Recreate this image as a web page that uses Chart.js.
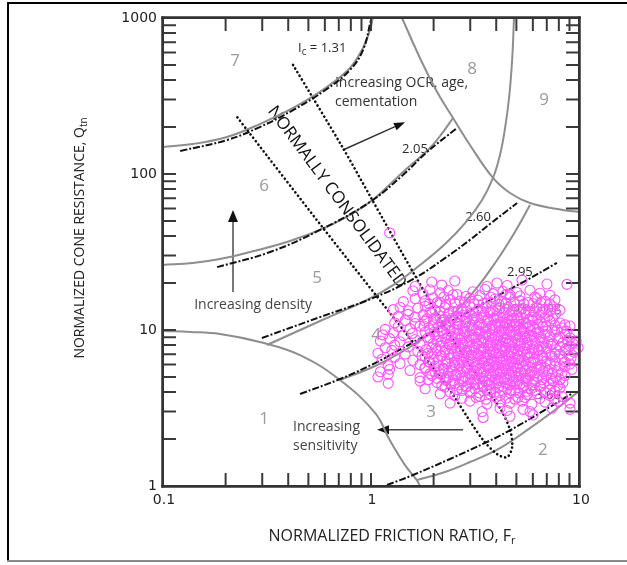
<!DOCTYPE html>
<html><head><meta charset="utf-8">
<script src="https://cdn.jsdelivr.net/npm/chart.js@4/dist/chart.umd.min.js"></script>
<style>html,body{margin:0;padding:0;background:#fff;}canvas{display:block;}</style>
</head><body>
<canvas id="c" width="627" height="565"></canvas>
<script>
// ===================== DATA =====================
const xTickValues = [0.1, 1, 10];
const xTickLabels = ['0.1', '1', '10'];
const yTickValues = [1, 10, 100, 1000];
const yTickLabels = ['1', '10', '100', '1000'];
const minorF = [0.2,0.3,0.4,0.5,0.6,0.7,0.8,0.9,1,2,3,4,5,6,7,8,9];
const minorQ = [2,3,4,5,6,7,8,9,10,20,30,40,50,60,70,80,90,100,200,300,400,500,600,700,800,900];

// zone boundaries (grey solid)  [F, Q]
const zone1Boundary = [[0.1,9.85],[0.135,9.72],[0.188,9.43],[0.292,8.38],[0.456,6.91],[0.709,4.78],[1.046,2.94],[1.23,1.97],[1.457,1.36],[1.66,1.09],[1.72,1.0]];
const zone2Boundary = [[1.66,1.09],[2.27,1.23],[2.99,1.425],[4.17,1.75],[5.81,2.35],[7.67,3.07],[9.89,4.0]];
const zone34Boundary = [[0.709,4.78],[1.046,5.88],[1.54,7.78],[2.32,11.6],[3.16,18.0],[4.04,28.1],[4.92,42.5],[5.81,63.3]];
const zone45Boundary = [[0.316,8.01],[0.569,11.42],[0.936,15.35],[1.30,19.7],[1.72,26.1],[2.27,35.6],[2.86,49.2],[3.42,68.1],[3.86,94.3],[4.17,132.4],[4.41,197],[4.61,307],[4.77,538],[4.87,1000]];
const zone56Boundary = [[0.1,26.1],[0.139,26.9],[0.188,28.5],[0.262,31.6],[0.408,37.2],[0.614,45.8],[0.838,57.1],[1.046,70.2],[1.425,103],[1.92,146.8],[2.22,185.8],[2.48,228.6]];
const zone67Boundary = [[0.1,149],[0.139,155.7],[0.203,172.6],[0.292,209],[0.422,265],[0.614,361],[0.792,478],[0.915,642],[0.989,837],[1.02,1000]];
const ocBoundary = [[1.41,1000],[1.72,554],[2.08,335],[2.48,228.6],[2.99,153.5],[3.86,94.3],[4.66,75.5],[5.81,65.2],[8.37,58.8],[10,57.1]];

// Ic contours (dash-dot)
const ic131 = [[0.121,140.4],[0.203,165],[0.292,200],[0.422,257],[0.614,351],[0.792,464],[0.915,623],[1.0,971]];
const ic205 = [[0.182,25.3],[0.327,31.6],[0.569,43.8],[0.989,66.2],[1.425,98.5],[1.86,138.4],[2.59,197]];
const ic260 = [[0.299,8.89],[0.569,12.1],[1.02,16.0],[1.592,21.2],[2.27,28.9],[2.99,37.8],[3.73,47.8],[5.04,65.2]];
const ic295 = [[0.456,3.89],[0.709,4.85],[1.046,6.14],[1.54,8.13],[2.398,11.26],[3.73,15.57],[5.50,20.6],[7.83,26.9]];
const ic360 = [[1.194,1.015],[1.592,1.176],[2.398,1.49],[3.612,1.915],[4.507,2.22],[6.49,2.94],[9.36,3.95]];

// normally consolidated band (dotted)
const ncBand = [[0.422,500],[0.733,146.8],[0.989,72.3],[1.592,23.5],[2.398,9.29],[3.34,4.78],[4.17,3.16],[4.66,2.29],[4.77,1.78],[4.51,1.53],[4.04,1.60],[3.46,1.97],[2.99,2.61],[2.32,4.38],[1.66,7.78],[0.588,45.1],[0.227,232]];

// CPT data points [Fr, Qtn]
const cptPoints = [
[1.63,19.0],[1.96,20.3],[2.19,19.4],[2.53,20.6],[3.61,19.0],[4.03,20.0],[4.51,19.3],[5.32,20.9],[7.01,19.7],[8.75,19.6],
[1.59,17.8],[1.78,17.0],[1.92,18.1],[2.15,17.3],[2.35,17.9],[2.59,16.9],[3.09,17.6],[3.53,18.2],[3.86,17.1],[4.31,17.7],[4.66,16.8],[5.03,17.4],[5.81,18.0],[6.49,17.2],[7.25,16.7],
[2.24,16.3],[2.48,16.8],[2.86,16.4],[3.34,16.6],[3.77,16.2],[4.46,16.9],[5.20,16.5],[6.14,16.3],
[1.43,15.2],[1.63,15.9],[1.82,15.4],[1.99,16.1],[2.15,15.0],[2.40,15.7],[2.68,15.3],[2.99,16.0],[3.27,15.5],[3.61,14.9],[3.95,15.8],[4.26,15.2],[4.66,16.2],[5.20,15.4],[5.69,15.0],[6.28,15.9],[6.86,15.3],[7.66,15.6],
[1.90,14.7],[2.08,15.0],[2.29,14.6],[2.53,14.9],[2.83,15.1],[3.13,14.7],[3.46,14.8],[3.77,15.0],[4.12,14.6],[4.46,14.9],[4.87,15.1],[5.44,14.7],[6.01,14.8],[6.56,15.0],[7.25,14.7],
[1.28,13.5],[1.38,14.0],[1.51,13.3],[1.68,13.8],[1.82,14.2],[2.03,13.4],[2.27,13.9],[2.48,13.2],[2.74,13.7],[2.99,14.1],[3.27,13.5],[3.57,13.9],[3.86,13.3],[4.17,13.8],[4.56,14.0],[4.92,13.4],[5.32,13.7],[5.81,13.2],[6.28,13.9],[6.86,13.6],[7.49,14.1],[8.10,13.4],
[1.92,13.0],[2.15,13.2],[2.37,12.9],[2.62,13.3],[2.86,13.1],[3.13,12.9],[3.42,13.2],[3.73,13.0],[4.03,13.3],[4.36,12.9],[4.76,13.1],[5.14,13.2],[5.56,12.9],[6.07,13.1],[6.64,13.0],[7.25,13.3],
[1.35,12.2],[1.51,12.6],[1.63,12.1],[1.78,12.5],[1.96,12.8],[2.15,12.2],[2.35,12.6],[2.56,12.0],[2.77,12.4],[2.99,12.7],[3.23,12.1],[3.49,12.5],[3.73,12.9],[4.03,12.3],[4.31,12.0],[4.66,12.6],[5.03,12.2],[5.50,12.7],[5.94,12.1],[6.49,12.5],[7.09,12.3],[7.75,12.8],
[1.86,11.8],[2.05,12.0],[2.24,11.7],[2.45,11.9],[2.68,12.1],[2.89,11.8],[3.13,11.9],[3.38,12.0],[3.65,11.7],[3.90,11.9],[4.17,12.1],[4.51,11.8],[4.87,11.9],[5.26,12.0],[5.75,11.7],[6.28,11.9],[6.86,12.0],[7.49,11.8],
[1.30,11.1],[1.46,11.5],[1.63,11.0],[1.82,11.4],[1.99,11.7],[2.19,11.2],[2.40,11.5],[2.62,11.0],[2.86,11.3],[3.09,11.6],[3.34,11.1],[3.61,11.4],[3.90,11.7],[4.17,11.2],[4.46,10.9],[4.76,11.5],[5.14,11.3],[5.56,11.0],[6.01,11.6],[6.56,11.2],[7.25,11.4],[8.10,11.1],
[1.80,10.6],[1.99,10.8],[2.17,10.5],[2.37,10.7],[2.59,10.9],[2.83,10.6],[3.06,10.7],[3.31,10.8],[3.57,10.5],[3.82,10.7],[4.08,10.9],[4.36,10.6],[4.66,10.7],[4.98,10.8],[5.38,10.5],[5.81,10.7],[6.35,10.9],[6.94,10.6],[7.66,10.7],[8.56,10.8],
[1.17,10.1],[1.35,10.5],[1.54,10.2],[1.72,10.6],[1.92,10.0],[2.10,10.4],[2.29,10.7],[2.51,10.1],[2.74,10.3],[2.96,10.6],[3.20,10.0],[3.46,10.4],[3.73,10.2],[3.99,10.5],[4.26,10.0],[4.56,10.3],[4.87,10.6],[5.26,10.1],[5.69,10.4],[6.14,10.2],[6.71,10.5],[7.41,10.0],[8.28,10.3],[9.05,10.6],
[2.01,9.7],[2.19,9.9],[2.40,9.8],[2.62,10.0],[2.83,9.7],[3.06,9.9],[3.31,9.8],[3.57,9.7],[3.86,10.0],[4.12,9.8],[4.41,9.9],[4.71,9.7],[5.03,10.0],[5.44,9.8],[5.87,9.9],[6.42,9.7],[7.01,9.8],[7.83,10.0],[8.75,9.8],
[1.14,9.3],[1.28,9.6],[1.43,9.2],[1.58,9.5],[1.82,9.7],[2.03,9.3],[2.22,9.6],[2.43,9.1],[2.62,9.4],[2.83,9.7],[3.06,9.2],[3.31,9.5],[3.57,9.3],[3.82,9.6],[4.08,9.2],[4.36,9.5],[4.66,9.8],[4.98,9.3],[5.38,9.5],[5.81,9.2],[6.28,9.6],[6.86,9.4],[7.66,9.7],[8.56,9.3],
[1.92,8.9],[2.12,9.1],[2.32,8.95],[2.53,9.05],[2.74,8.9],[2.96,9.1],[3.20,9.0],[3.46,8.9],[3.69,9.1],[3.95,8.95],[4.22,9.05],[4.51,8.9],[4.81,9.1],[5.20,9.0],[5.62,8.9],[6.07,9.1],[6.56,8.95],[7.25,9.05],[8.10,9.0],[9.05,8.9],
[1.11,8.5],[1.23,8.8],[1.38,8.4],[1.63,8.7],[1.88,8.9],[2.08,8.5],[2.27,8.8],[2.45,8.4],[2.68,8.7],[2.89,8.5],[3.13,8.9],[3.38,8.6],[3.65,8.3],[3.90,8.7],[4.17,8.5],[4.46,8.8],[4.76,8.4],[5.09,8.6],[5.50,8.9],[5.94,8.5],[6.49,8.7],[7.09,8.4],[7.92,8.8],[8.85,8.6],[9.68,8.5],
[1.99,8.2],[2.17,8.35],[2.37,8.15],[2.56,8.3],[2.77,8.2],[2.99,8.35],[3.23,8.15],[3.49,8.3],[3.77,8.25],[4.03,8.1],[4.31,8.35],[4.61,8.2],[4.92,8.3],[5.26,8.15],[5.69,8.3],[6.21,8.2],[6.78,8.35],[7.49,8.15],[8.37,8.3],[9.36,8.2],
[1.17,7.7],[1.30,8.0],[1.51,7.8],[1.72,8.1],[1.96,7.7],[2.17,7.9],[2.37,8.1],[2.56,7.7],[2.77,8.0],[2.99,7.8],[3.23,8.1],[3.49,7.7],[3.73,7.9],[3.99,8.0],[4.26,7.8],[4.56,8.1],[4.87,7.7],[5.20,7.9],[5.62,8.0],[6.07,7.7],[6.64,7.9],[7.33,8.1],[8.10,7.8],[9.05,7.9],[9.90,7.7],
[1.84,7.5],[2.05,7.65],[2.27,7.45],[2.45,7.6],[2.68,7.55],[2.89,7.4],[3.13,7.65],[3.38,7.5],[3.65,7.6],[3.90,7.45],[4.17,7.55],[4.46,7.65],[4.76,7.5],[5.09,7.4],[5.50,7.6],[5.94,7.55],[6.42,7.45],[7.01,7.65],[7.75,7.5],[8.66,7.6],[9.57,7.5],
[1.08,7.1],[1.26,7.4],[1.46,7.0],[1.68,7.3],[1.88,7.1],[2.08,7.4],[2.27,7.2],[2.48,7.0],[2.68,7.3],[2.89,7.1],[3.13,7.4],[3.38,7.2],[3.61,7.0],[3.86,7.3],[4.12,7.1],[4.41,7.4],[4.71,7.2],[5.03,7.0],[5.38,7.3],[5.81,7.1],[6.35,7.4],[6.94,7.2],[7.66,7.0],[8.56,7.3],[9.46,7.2],
[1.76,6.85],[1.96,7.0],[2.17,6.8],[2.37,6.95],[2.59,7.05],[2.80,6.85],[3.03,6.9],[3.27,7.0],[3.49,6.8],[3.73,6.95],[3.99,7.05],[4.26,6.85],[4.56,6.9],[4.87,7.0],[5.20,6.8],[5.62,6.95],[6.07,7.05],[6.64,6.85],[7.25,6.9],[8.10,7.0],[8.95,6.85],
[1.13,6.5],[1.30,6.7],[1.59,6.4],[1.82,6.7],[2.01,6.5],[2.19,6.8],[2.40,6.6],[2.59,6.4],[2.80,6.7],[3.03,6.5],[3.27,6.8],[3.53,6.6],[3.77,6.4],[4.03,6.7],[4.31,6.5],[4.61,6.8],[4.92,6.6],[5.26,6.4],[5.69,6.7],[6.14,6.5],[6.71,6.6],[7.41,6.8],[8.28,6.5],[9.15,6.6],
[1.90,6.25],[2.10,6.4],[2.29,6.3],[2.51,6.2],[2.71,6.45],[2.93,6.3],[3.16,6.25],[3.42,6.4],[3.65,6.35],[3.90,6.2],[4.17,6.4],[4.46,6.3],[4.76,6.25],[5.09,6.45],[5.44,6.3],[5.87,6.2],[6.35,6.4],[6.94,6.3],[7.66,6.35],[8.56,6.25],
[1.21,5.9],[1.38,6.1],[1.72,6.0],[1.92,6.2],[2.12,5.9],[2.32,6.1],[2.53,5.95],[2.74,6.2],[2.96,6.0],[3.20,5.9],[3.46,6.15],[3.69,6.0],[3.95,5.9],[4.22,6.2],[4.51,6.05],[4.81,5.9],[5.14,6.1],[5.56,6.0],[6.01,6.2],[6.56,5.95],[7.25,6.1],[8.10,5.9],[9.05,6.05],
[1.82,5.75],[2.03,5.85],[2.22,5.7],[2.43,5.8],[2.65,5.9],[2.86,5.75],[3.09,5.8],[3.34,5.7],[3.61,5.85],[3.86,5.8],[4.12,5.75],[4.41,5.9],[4.71,5.7],[5.03,5.8],[5.38,5.85],[5.81,5.75],[6.28,5.8],[6.86,5.7],[7.66,5.85],[8.56,5.8],
[1.11,5.4],[1.23,5.6],[1.54,5.5],[1.82,5.7],[2.03,5.4],[2.24,5.6],[2.45,5.5],[2.68,5.35],[2.89,5.65],[3.13,5.5],[3.38,5.4],[3.65,5.7],[3.90,5.5],[4.17,5.35],[4.46,5.6],[4.76,5.45],[5.09,5.7],[5.50,5.5],[5.94,5.4],[6.49,5.6],[7.09,5.5],[7.92,5.4],[9.25,5.6],
[1.92,5.25],[2.12,5.35],[2.35,5.3],[2.56,5.2],[2.77,5.4],[2.99,5.25],[3.23,5.3],[3.49,5.35],[3.77,5.2],[4.03,5.3],[4.31,5.4],[4.61,5.25],[4.92,5.3],[5.26,5.35],[5.69,5.2],[6.14,5.3],[6.71,5.4],[7.41,5.25],[8.28,5.3],
[1.08,5.0],[1.21,5.2],[1.72,4.95],[1.96,5.1],[2.17,5.2],[2.37,4.95],[2.59,5.1],[2.83,5.0],[3.06,5.2],[3.31,4.9],[3.57,5.1],[3.82,5.0],[4.08,5.2],[4.36,4.95],[4.66,5.1],[4.98,5.0],[5.38,4.9],[5.81,5.15],[6.35,5.0],[6.94,5.1],[7.75,4.95],[8.56,5.1],
[1.88,4.8],[2.08,4.9],[2.27,4.85],[2.48,4.75],[2.71,4.9],[2.93,4.8],[3.16,4.85],[3.42,4.9],[3.69,4.75],[3.95,4.85],[4.22,4.9],[4.51,4.8],[4.81,4.85],[5.14,4.75],[5.56,4.9],[6.07,4.85],[6.64,4.8],[7.33,4.9],[8.10,4.8],
[1.21,4.55],[1.72,4.7],[2.08,4.6],[2.29,4.75],[2.53,4.55],[2.77,4.7],[3.03,4.6],[3.27,4.5],[3.53,4.7],[3.82,4.6],[4.12,4.75],[4.46,4.55],[4.81,4.65],[5.20,4.5],[5.62,4.7],[6.14,4.6],[6.78,4.55],[7.49,4.7],[8.37,4.6],
[2.19,4.4],[2.43,4.5],[2.65,4.45],[2.89,4.35],[3.16,4.5],[3.42,4.4],[3.69,4.45],[3.99,4.5],[4.31,4.35],[4.66,4.45],[5.03,4.5],[5.44,4.4],[5.94,4.45],[6.56,4.35],[7.25,4.5],[7.92,4.4],
[1.82,4.2],[2.27,4.3],[2.59,4.15],[2.86,4.3],[3.16,4.2],[3.46,4.35],[3.77,4.15],[4.12,4.3],[4.51,4.2],[4.92,4.1],[5.38,4.3],[5.87,4.2],[6.49,4.35],[7.25,4.15],[8.10,4.25],
[2.40,4.0],[2.74,4.1],[3.03,4.05],[3.31,3.95],[3.61,4.1],[3.95,4.0],[4.31,4.05],[4.71,4.1],[5.14,3.95],[5.62,4.05],[6.14,4.1],[6.86,4.0],[7.66,4.05],
[2.15,3.9],[2.53,3.8],[2.99,3.95],[3.34,3.75],[3.73,3.9],[4.17,3.8],[4.66,3.95],[5.09,3.7],[5.62,3.85],[6.28,3.9],[7.25,3.8],[8.28,3.75],
[2.74,3.65],[3.20,3.7],[3.57,3.6],[3.99,3.7],[4.46,3.65],[4.92,3.6],[5.50,3.7],[6.49,3.65],[7.66,3.6],
[2.40,3.4],[2.99,3.5],[3.61,3.35],[4.17,3.45],[4.66,3.4],[5.32,3.5],[5.94,3.35],[6.86,3.45],[7.92,3.5],[9.05,3.4],
[3.42,3.0],[4.17,3.15],[4.51,3.05],[5.38,3.1],[5.81,3.0],[7.41,3.15],[9.05,3.1],
[3.46,2.75],[4.66,2.8],[6.01,2.85],
[1.23,41.9]
];

// ===================== STYLE / LAYOUT =====================
const FONT = '"Open Sans", "DejaVu Sans", sans-serif';
const GREY = '#8e8e8e';
const toXY = a => a.map(p => ({x: p[0], y: p[1]}));

function greyLine(arr){ return {data: toXY(arr), showLine: true, borderColor: GREY, borderWidth: 2, pointRadius: 0, pointHitRadius: 0, tension: 0.4, order: 3}; }
function dashDot(arr){ return {data: toXY(arr), showLine: true, borderColor: '#111', borderWidth: 2, borderDash: [7,2,2,2], pointRadius: 0, pointHitRadius: 0, tension: 0.4, order: 2}; }

// inner tick marks, drawn as short segments through the scales (13 px long)
function tickMarkSegments(){
  const fx = Math.pow(10, 13/208), fy = Math.pow(10, 13/156);
  const xs = minorF.slice(), ys = minorQ.slice();
  [0.1, 1].forEach(d => [2,3,4,5,6,7,8,9].forEach(m => xs.push(Number((d*m).toPrecision(3)))));
  [1, 10, 100].forEach(d => [2,3,4,5,6,7,8,9].forEach(m => ys.push(d*m)));
  const pts = [];
  xs.forEach(v => pts.push({x:v,y:1},{x:v,y:fy},{x:v,y:null},{x:v,y:1000},{x:v,y:1000/fy},{x:v,y:null}));
  ys.forEach(v => pts.push({x:0.1,y:v},{x:0.1*fx,y:v},{x:0.1,y:null},{x:10,y:v},{x:10/fx,y:v},{x:10,y:null}));
  return pts;
}

// annotation anchors in data space [text, F, Q]
const zoneLabels = [['7',0.222,530],['8',3.06,471],['9',6.79,298],['6',0.306,83.8],['5',0.550,21.5],['4',1.057,9.29],['3',1.943,2.98],['2',6.71,1.70],['1',0.306,2.69]];
const icLabels = [['2.05',1.627,144.6],['2.60',3.27,53.0],['2.95',5.20,23.5],['3.60',7.10,3.83]];

function arrow(ctx, x0, y0, x1, y1, col, lw, hl, hw){
  const a = Math.atan2(y1 - y0, x1 - x0);
  const bx = x1 - hl*Math.cos(a), by = y1 - hl*Math.sin(a);
  ctx.setLineDash([]);
  ctx.strokeStyle = col; ctx.lineWidth = lw;
  ctx.beginPath(); ctx.moveTo(x0, y0); ctx.lineTo(bx, by); ctx.stroke();
  ctx.fillStyle = '#111';
  ctx.beginPath(); ctx.moveTo(x1, y1);
  ctx.lineTo(bx + hw/2*Math.sin(a), by - hw/2*Math.cos(a));
  ctx.lineTo(bx - hw/2*Math.sin(a), by + hw/2*Math.cos(a));
  ctx.closePath(); ctx.fill();
}
function subText(ctx, main, sub, x, y, size, subSize){
  ctx.font = size + 'px ' + FONT;
  const w1 = ctx.measureText(main).width;
  ctx.font = subSize + 'px ' + FONT;
  const w2 = ctx.measureText(sub).width;
  const s = x - (w1 + w2)/2;
  ctx.textAlign = 'left';
  ctx.font = size + 'px ' + FONT; ctx.fillText(main, s, y);
  ctx.font = subSize + 'px ' + FONT; ctx.fillText(sub, s + w1, y + size*0.3);
}
function drawFrame(chart){
  const {ctx, chartArea: a} = chart;
  ctx.save();
  ctx.fillStyle = '#333';
  ctx.fillRect(a.left - 1.5, a.top - 1.5, a.right - a.left + 3, 2.5);
  ctx.fillRect(a.left - 1.5, a.bottom - 1, a.right - a.left + 3, 2.5);
  ctx.fillRect(a.left - 1.5, a.top - 1.5, 2.5, a.bottom - a.top + 3);
  ctx.fillRect(a.right - 1, a.top - 1.5, 2.5, a.bottom - a.top + 3);
  ctx.restore();
}

const deco = {
  id: 'deco',
  beforeDraw(chart){
    const ctx = chart.ctx;
    ctx.save();
    ctx.fillStyle = '#fff'; ctx.fillRect(0, 0, chart.width, chart.height);
    ctx.fillStyle = '#000';
    ctx.fillRect(7, 2, 620, 2);
    ctx.fillRect(7, 2, 2, 560);
    ctx.fillStyle = '#8a8a8a';
    ctx.fillRect(7, 560, 620, 2);
    ctx.restore();
  },
  beforeDatasetsDraw(chart){
    const {ctx, chartArea: a, scales: {x, y}} = chart;
    const P = (F, Q) => [x.getPixelForValue(F), y.getPixelForValue(Q)];
    ctx.save();
    ctx.textBaseline = 'middle';
    ctx.fillStyle = '#9a9a9a'; ctx.font = '17px ' + FONT; ctx.textAlign = 'center';
    zoneLabels.forEach(([t, F, Q]) => { const [px, py] = P(F, Q); ctx.fillText(t, px, py); });
    ctx.fillStyle = '#2a2a2a'; ctx.font = '13px ' + FONT;
    icLabels.forEach(([t, F, Q]) => { const [px, py] = P(F, Q); ctx.fillText(t, px, py); });
    { const [px, py] = P(0.446, 642); ctx.textAlign = 'left';
      ctx.font = '13px ' + FONT; ctx.fillText('I', px, py);
      const w = ctx.measureText('I').width;
      ctx.font = '10px ' + FONT; ctx.fillText('c', px + w, py + 4);
      const w2 = ctx.measureText('c').width;
      ctx.font = '13px ' + FONT; ctx.fillText(' = 1.31', px + w + w2, py); }
    ctx.fillStyle = '#333'; ctx.font = '14px ' + FONT; ctx.textAlign = 'left';
    { const [px, py] = P(0.671, 383); ctx.fillText('Increasing OCR, age,', px, py); }
    { const [px, py] = P(0.671, 289); ctx.fillText('cementation', px, py); }
    { const [x0, y0] = P(0.733, 142.6), [x1, y1] = P(1.457, 215); arrow(ctx, x0, y0, x1, y1, '#333', 1.5, 11, 8); }
    ctx.fillStyle = '#777'; ctx.textAlign = 'center'; ctx.font = '13px ' + FONT;
    { const [px, py] = P(5.81, 14.0); ctx.fillText('Increasing', px, py); }
    { const [px, py] = P(4.77, 10.8); ctx.fillText('OCR', px, py); }
    ctx.fillStyle = '#444'; ctx.font = '14px ' + FONT; ctx.textAlign = 'center';
    { const [px, py] = P(0.271, 14.5); ctx.fillText('Increasing density', px, py); }
    { const [x0, y0] = P(0.217, 17.5), [x1, y1] = P(0.217, 58.8); arrow(ctx, x0, y0, x1, y1, '#777', 2, 12, 10); }
    ctx.textAlign = 'left'; ctx.fillStyle = '#444';
    { const [px, py] = P(0.422, 2.39); ctx.fillText('Increasing', px, py); }
    { const [px, py] = P(0.422, 1.80); ctx.fillText('sensitivity', px, py); }
    { const [x0, y0] = P(2.77, 2.29), [x1, y1] = P(1.069, 2.29); arrow(ctx, x0, y0, x1, y1, '#444', 1.5, 12, 9); }
    { const [px, py] = P(0.686, 71.2);
      ctx.save(); ctx.translate(px, py); ctx.rotate(53.5*Math.PI/180);
      ctx.fillStyle = '#111'; ctx.font = '17px ' + FONT; ctx.textAlign = 'center';
      ctx.fillText('NORMALLY CONSOLIDATED', 0, 0); ctx.restore(); }
    ctx.fillStyle = '#222';
    subText(ctx, 'NORMALIZED FRICTION RATIO, F', 'r', a.left + 229, a.bottom + 50, 16, 11);
    ctx.save(); ctx.translate(a.left - 83, a.top + 220); ctx.rotate(-Math.PI/2);
    subText(ctx, 'NORMALIZED CONE RESISTANCE, Q', 'tn', 0, 0, 14, 10);
    ctx.restore();
    ctx.fillStyle = '#222'; ctx.font = '14px "DejaVu Sans", sans-serif'; ctx.textBaseline = 'middle';
    ctx.textAlign = 'right';
    yTickValues.forEach((v, i) => ctx.fillText(yTickLabels[i], a.left - 6, y.getPixelForValue(v)));
    ctx.textAlign = 'center';
    xTickValues.forEach((v, i) => ctx.fillText(xTickLabels[i], x.getPixelForValue(v) + (i === 2 ? 2 : 1), a.bottom + 14));
    ctx.restore();
    drawFrame(chart);
  },
  afterDraw(chart){
    drawFrame(chart);
  }
};

const datasets = [
  {data: toXY(cptPoints), showLine: false, pointRadius: 5, pointBorderWidth: 1.1, pointBorderColor: '#ff55ff', pointBackgroundColor: 'rgba(0,0,0,0)', clip: false, order: 0},
  {data: tickMarkSegments(), showLine: true, spanGaps: false, borderColor: '#3a3a3a', borderWidth: 2, borderCapStyle: 'butt', pointRadius: 0, pointHitRadius: 0, tension: 0, clip: false, order: 0.5},
  greyLine(zone1Boundary), greyLine(zone2Boundary), greyLine(zone34Boundary), greyLine(zone45Boundary),
  greyLine(zone56Boundary), greyLine(zone67Boundary), greyLine(ocBoundary),
  dashDot(ic131), dashDot(ic205), dashDot(ic260), dashDot(ic295), dashDot(ic360),
  {data: toXY(ncBand), showLine: true, borderColor: '#111', borderWidth: 2.6, borderDash: [0.1, 4.2], borderCapStyle: 'round', pointRadius: 0, pointHitRadius: 0, tension: 0.3, order: 1}
];

new Chart(document.getElementById('c'), {
  type: 'scatter',
  data: {datasets},
  options: {
    responsive: false, animation: false, devicePixelRatio: 1, events: [],
    layout: {padding: {left: 163, top: 18, right: 48, bottom: 79}},
    plugins: {legend: {display: false}, tooltip: {enabled: false}},
    scales: {
      x: {type: 'logarithmic', min: 0.1, max: 10, display: false},
      y: {type: 'logarithmic', min: 1, max: 1000, display: false}
    }
  },
  plugins: [deco]
});
</script>
</body></html>
